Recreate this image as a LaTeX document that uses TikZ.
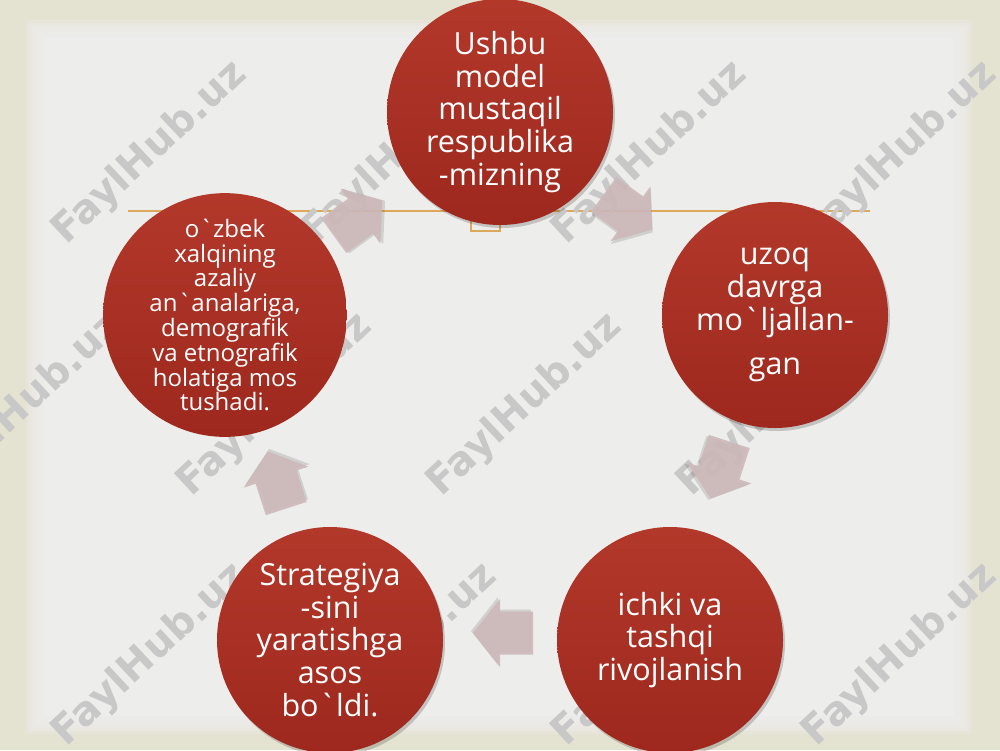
\documentclass[tikz,border=0pt]{standalone}
\usepackage{fontspec}
\setmainfont{Open Sans}[Ligatures=TeXOff]
\newfontfamily\wmfont{DejaVu Sans}
\definecolor{bgout}{RGB}{228,226,208}
\definecolor{bgin}{RGB}{237,237,236}
\definecolor{lineor}{RGB}{221,168,92}
\definecolor{redtop}{RGB}{178,56,42}
\definecolor{redbot}{RGB}{158,40,30}
\definecolor{arrcol}{RGB}{205,184,184}
\definecolor{wmcol}{RGB}{200,200,200}
\tikzset{
  circ/.style={circle, minimum size=226pt, inner sep=0pt, align=center,
    text=white, top color=redtop, bottom color=redbot,
    font=\fontsize{30.5}{32.7}\selectfont},
  circsmall/.style={circ, font=\fontsize{24}{24.8}\selectfont},
  circshadow/.style={circle, minimum size=226pt, inner sep=0pt, fill=black, opacity=0.18},
  wm/.style={text=wmcol, rotate=43, font=\wmfont\bfseries\fontsize{40}{40}\selectfont, inner sep=0pt},
  arrbody/.style={fill=arrcol, opacity=0.9},
  arrshadow/.style={fill=black, opacity=0.12}
}
\newcommand\blockarrow[3]{%
  \begin{scope}[shift={(#1)}, rotate=#2]
    \fill[arrshadow, xshift=2pt, yshift=-2pt] (-30,-21.5) -- (3,-21.5) -- (3,-34) -- (30,0) -- (3,34) -- (3,21.5) -- (-30,21.5) -- cycle;
    \fill[arrbody] (-30,-21.5) -- (3,-21.5) -- (3,-34) -- (30,0) -- (3,34) -- (3,21.5) -- (-30,21.5) -- cycle;
    \coordinate (#3) at (0,0);
  \end{scope}}
\begin{document}
\begin{tikzpicture}[x=1pt, y=-1pt]
\useasboundingbox (0,0) rectangle (1000,750);
% background
\fill[bgout] (0,0) rectangle (1000,750);
\foreach \i in {0,...,5} {
  \fill[bgin, opacity=0.35] (26+\i*3, 20+\i*3) rectangle (972-\i*3, 734-\i*3);
}
\fill[bgin] (44,38) rectangle (954,716);
% title rule and small box
\draw[lineor, line width=1.3pt] (128,211) -- (870,211);
\draw[lineor, line width=1.3pt] (471,214) rectangle (500,231);
% watermarks
\foreach \x/\y in {150/153, 400/153, 650/153, 900/153,
                   25/405, 275/405, 525/405, 775/405,
                   150/655, 400/655, 650/655, 900/655} {
  \node[wm] at (\x,\y) {FaylHub.uz};
}
% block arrows
\blockarrow{358,218}{36}{a1}
\blockarrow{628,212}{-36}{a2}
\blockarrow{720,470}{-108}{a3}
\blockarrow{503,633}{180}{a4}
\blockarrow{277,480}{108}{a5}
% circle shadows
\foreach \x/\y in {500/112, 775/315, 670/640, 330/640, 225/315} {
  \node[circshadow] at (\x+2,\y+3) {};
}
% circles
\node[circ] (c1) at (500,112) {Ushbu\\model\\mustaqil\\respublika\\-mizning};
\node[circ] (c2) at (775,315) {uzoq\\davrga\\mo`ljallan-\\[12pt]gan};
\node[circ] (c3) at (670,640) {ichki va\\tashqi\\rivojlanish};
\node[circ] (c4) at (330,640) {Strategiya\\-sini\\yaratishga\\asos\\bo`ldi.};
\node[circsmall] (c5) at (225,315) {o`zbek\\xalqining\\azaliy\\an`analariga,\\demografik\\va etnografik\\holatiga mos\\tushadi.};
\end{tikzpicture}
\end{document}
